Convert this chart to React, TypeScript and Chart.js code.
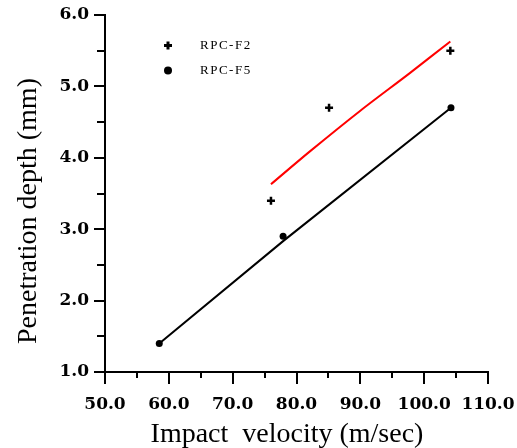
import { useEffect, useRef } from 'react';
import { Chart, registerables } from 'chart.js';

Chart.register(...registerables);

// ---- data ----
const seriesNames = ['RPC-F2', 'RPC-F5'];
const f2Velocity = [76.0, 85.1, 104.1];
const f2Depth = [3.4, 4.7, 5.5];
const f5Velocity = [58.5, 77.9, 104.2];
const f5Depth = [1.4, 2.9, 4.7];
const f2FitVelocity = [76.0, 82.1, 90.0, 97.8, 104.1];
const f2FitDepth = [3.63, 4.09, 4.66, 5.19, 5.63];
const f5FitVelocity = [58.5, 78.0, 104.2];
const f5FitDepth = [1.4, 2.84, 4.7];
const xTickValues = [50, 60, 70, 80, 90, 100, 110];
const yTickValues = [1, 2, 3, 4, 5, 6];
const xTitle = 'Impact  velocity (m/sec)';
const yTitle = 'Penetration depth (mm)';

const toPoints = (xs: number[], ys: number[]) => xs.map((x, i) => ({ x, y: ys[i] }));

const customPlugin = {
  id: 'custom',
  afterDraw(chart: any) {
    const ctx = chart.ctx as CanvasRenderingContext2D;
    const xs = chart.scales.x;
    const ys = chart.scales.y;
    const area = chart.chartArea;
    ctx.save();
    ctx.strokeStyle = '#000';
    ctx.lineWidth = 2;
    // x ticks (major + minor)
    for (let v = xTickValues[0]; v <= xTickValues[xTickValues.length - 1]; v += 5) {
      const major = xTickValues.includes(v);
      const px = Math.round(xs.getPixelForValue(v));
      ctx.beginPath();
      ctx.moveTo(px, area.bottom);
      ctx.lineTo(px, area.bottom + (major ? 12 : 6));
      ctx.stroke();
    }
    // y ticks
    for (let v = yTickValues[0]; v <= yTickValues[yTickValues.length - 1] + 0.001; v += 0.5) {
      const major = Math.abs(v - Math.round(v)) < 0.01;
      const py = Math.round(ys.getPixelForValue(v));
      ctx.beginPath();
      ctx.moveTo(area.left, py);
      ctx.lineTo(area.left - (major ? 11 : 8), py);
      ctx.stroke();
    }
    // titles
    ctx.fillStyle = '#000';
    ctx.font = '28px "Liberation Serif"';
    ctx.textAlign = 'center';
    ctx.textBaseline = 'alphabetic';
    ctx.fillText(xTitle, 287, 442);
    ctx.save();
    ctx.translate(36, 211);
    ctx.rotate(-Math.PI / 2);
    ctx.fillText(yTitle, 0, 0);
    ctx.restore();
    // legend
    const lx = 168;
    const ly = [45.5, 70.5];
    ctx.lineWidth = 3;
    ctx.beginPath();
    ctx.moveTo(lx - 4, ly[0]);
    ctx.lineTo(lx + 4, ly[0]);
    ctx.moveTo(lx, ly[0] - 4);
    ctx.lineTo(lx, ly[0] + 4);
    ctx.stroke();
    ctx.beginPath();
    ctx.arc(lx, ly[1], 4, 0, Math.PI * 2);
    ctx.fill();
    ctx.font = '13px "Liberation Serif"';
    (ctx as any).letterSpacing = '1.5px';
    ctx.textAlign = 'left';
    ctx.textBaseline = 'middle';
    ctx.fillText(seriesNames[0], 200, ly[0]);
    ctx.fillText(seriesNames[1], 200, ly[1]);
    ctx.restore();
  },
};

export default function App() {
  const ref = useRef<HTMLCanvasElement>(null);
  useEffect(() => {
    if (!ref.current) return;
    const chart = new Chart(ref.current, {
      type: 'scatter',
      data: {
        datasets: [
          {
            label: seriesNames[0],
            data: toPoints(f2Velocity, f2Depth),
            pointStyle: 'cross',
            pointRadius: 4,
            pointBorderWidth: 2.5,
            borderColor: '#000',
            backgroundColor: '#000',
            showLine: false,
          },
          {
            label: seriesNames[1],
            data: toPoints(f5Velocity, f5Depth),
            pointStyle: 'circle',
            pointRadius: 3.5,
            pointBorderWidth: 0,
            borderColor: '#000',
            backgroundColor: '#000',
            showLine: false,
          },
          {
            label: 'RPC-F2 fit',
            data: toPoints(f2FitVelocity, f2FitDepth),
            showLine: true,
            borderColor: '#ff0000',
            borderWidth: 2,
            pointRadius: 0,
            tension: 0.3,
          },
          {
            label: 'RPC-F5 fit',
            data: toPoints(f5FitVelocity, f5FitDepth),
            showLine: true,
            borderColor: '#000',
            borderWidth: 2,
            pointRadius: 0,
            tension: 0,
          },
        ],
      },
      options: {
        responsive: false,
        animation: false,
        devicePixelRatio: 1,
        layout: { padding: { left: 0, right: 29, top: 15, bottom: 0 } },
        plugins: { legend: { display: false }, tooltip: { enabled: false } },
        scales: {
          x: {
            type: 'linear',
            min: 50,
            max: 110,
            afterBuildTicks: (s: any) => {
              s.ticks = xTickValues.map((v) => ({ value: v }));
            },
            afterFit: (s: any) => {
              s.height = 76;
              s.paddingLeft = 0;
              s.paddingRight = 0;
            },
            grid: { display: false, drawTicks: false },
            border: { display: true, color: '#000', width: 2 },
            ticks: {
              color: '#000',
              padding: 22,
              maxRotation: 0,
              font: { family: '"DejaVu Serif"', size: 17, weight: 'bold' },
              callback: (v: any) => Number(v).toFixed(1),
            },
          },
          y: {
            type: 'linear',
            min: 1,
            max: 6,
            afterBuildTicks: (s: any) => {
              s.ticks = yTickValues.map((v) => ({ value: v }));
            },
            afterFit: (s: any) => {
              s.width = 105;
              s.paddingTop = 0;
              s.paddingBottom = 0;
            },
            grid: { display: false, drawTicks: false },
            border: { display: true, color: '#000', width: 2 },
            ticks: {
              color: '#000',
              padding: 16,
              font: { family: '"DejaVu Serif"', size: 17, weight: 'bold' },
              callback: (v: any) => Number(v).toFixed(1),
            },
          },
        },
      },
      plugins: [customPlugin],
    });
    return () => chart.destroy();
  }, []);
  return (
    <div style={{ position: 'absolute', left: 0, top: 0, width: 517, height: 448, background: '#fff' }}>
      <canvas ref={ref} width={517} height={448} style={{ display: 'block' }} />
    </div>
  );
}
